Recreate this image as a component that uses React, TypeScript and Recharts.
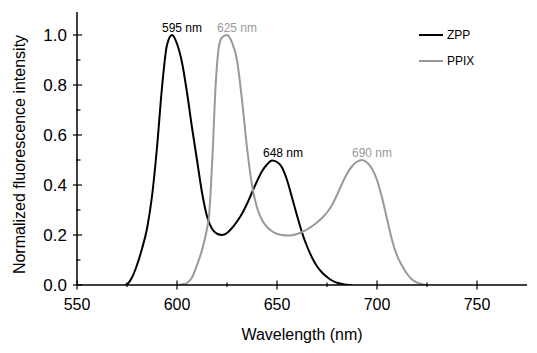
import React from 'react';
import { LineChart, Line, XAxis, YAxis, ReferenceDot } from 'recharts';

const zppWavelength = [574, 575, 577.5, 580, 582.5, 585, 587.5, 590, 592.5, 595, 597.5, 600, 602.5, 605, 607.5, 610, 612.5, 615, 617.5, 620, 622.5, 625, 627.5, 630, 632.5, 635, 637.5, 640, 642.5, 645, 647.5, 650, 652.5, 655, 657.5, 660, 662.5, 665, 667.5, 670, 672.5, 675, 677.5, 680, 682.5, 685, 687.5];
const zppIntensity = [0, 0.003, 0.03, 0.08, 0.145, 0.225, 0.355, 0.55, 0.79, 0.96, 1.0, 0.965, 0.89, 0.77, 0.63, 0.5, 0.37, 0.275, 0.225, 0.205, 0.2, 0.208, 0.228, 0.254, 0.285, 0.325, 0.37, 0.415, 0.455, 0.482, 0.498, 0.492, 0.47, 0.42, 0.35, 0.278, 0.21, 0.155, 0.11, 0.075, 0.05, 0.032, 0.018, 0.009, 0.004, 0.001, 0];

const ppixWavelength = [600, 602.5, 605, 607.5, 610, 612.5, 615, 616, 617, 618, 619, 620, 621, 622.5, 625, 627.5, 630, 632.5, 635, 637.5, 640, 642.5, 645, 647.5, 650, 652.5, 655, 657.5, 660, 662.5, 665, 667.5, 670, 672.5, 675, 677.5, 680, 682.5, 685, 687.5, 690, 692.5, 695, 697.5, 700, 702.5, 705, 707.5, 710, 712.5, 715, 717.5, 720, 722.5, 725];
const ppixIntensity = [0, 0.002, 0.008, 0.03, 0.08, 0.14, 0.225, 0.275, 0.4, 0.56, 0.75, 0.88, 0.955, 0.99, 1.0, 0.97, 0.9, 0.74, 0.55, 0.4, 0.31, 0.26, 0.232, 0.215, 0.205, 0.2, 0.198, 0.199, 0.204, 0.212, 0.222, 0.235, 0.25, 0.268, 0.29, 0.32, 0.36, 0.405, 0.445, 0.475, 0.493, 0.5, 0.49, 0.465, 0.42, 0.35, 0.265, 0.18, 0.118, 0.078, 0.045, 0.022, 0.01, 0.003, 0];

const xMajorTicks = [550, 600, 650, 700, 750];
const xMinorTicks = [575, 625, 675, 725];
const yMajorTicks = [0, 0.2, 0.4, 0.6, 0.8, 1.0];
const yMinorTicks = [0.1, 0.3, 0.5, 0.7, 0.9];

const peakWavelengths = [597.5, 625, 648, 692.5];
const peakIntensities = [1.0, 1.0, 0.5, 0.5];
const peakLabels = ['595 nm', '625 nm', '648 nm', '690 nm'];
const peakSeries = ['ZPP', 'PPIX', 'ZPP', 'PPIX'];

const seriesNames = ['ZPP', 'PPIX'];
const seriesColors: Record<string, string> = { ZPP: '#000000', PPIX: '#999999' };

const zppData = zppWavelength.map((x, i) => ({ x, y: zppIntensity[i] }));
const ppixData = ppixWavelength.map((x, i) => ({ x, y: ppixIntensity[i] }));

const FONT = '"Liberation Sans", Arial, Helvetica, sans-serif';

const isMajor = (v: number, list: number[]) => list.some((m) => Math.abs(m - v) < 1e-6);

const XTick = (props: any) => {
  const { x, y, payload } = props;
  const v = payload.value;
  const major = isMajor(v, xMajorTicks);
  return (
    <g>
      <line x1={x} x2={x} y1={y - (major ? 4.5 : 2.5)} y2={y + (major ? 4.5 : 2)} stroke="#000" strokeWidth={1.2} />
      {major && (
        <text x={x} y={y + 25} textAnchor="middle" fontSize={16} fill="#000" fontFamily={FONT}>
          {v}
        </text>
      )}
    </g>
  );
};

const YTick = (props: any) => {
  const { x, y, payload } = props;
  const v = payload.value;
  const major = isMajor(v, yMajorTicks);
  return (
    <g>
      <line x1={x - (major ? 4 : 1)} x2={x + (major ? 5 : 3.5)} y1={y} y2={y} stroke="#000" strokeWidth={1.2} />
      {major && (
        <text x={x - 10} y={y + 6} textAnchor="end" fontSize={17} fill="#000" fontFamily={FONT}>
          {v.toFixed(1)}
        </text>
      )}
    </g>
  );
};

const LegendBox = () => (
  <div style={{ position: 'absolute', left: 419, top: 22, fontFamily: FONT, fontSize: 12 }}>
    {seriesNames.map((n) => (
      <div key={n} style={{ display: 'flex', alignItems: 'center', height: 26 }}>
        <svg width={28} height={4} style={{ display: 'block' }}>
          <line x1={0} x2={24} y1={2} y2={2} stroke={seriesColors[n]} strokeWidth={2} />
        </svg>
        <span style={{ color: '#000' }}>{n}</span>
      </div>
    ))}
  </div>
);

export default function App() {
  return (
    <div style={{ position: 'absolute', left: 0, top: 0, width: 537, height: 353, background: '#fff' }}>
      <LineChart width={537} height={353} margin={{ top: 12, right: 10, bottom: 0, left: 0 }}>
        <XAxis
          type="number"
          dataKey="x"
          domain={[550, 775]}
          ticks={[...xMajorTicks, ...xMinorTicks].sort((a, b) => a - b)}
          allowDataOverflow
          height={68}
          tickSize={0}
          tickMargin={0}
          tickLine={false}
          axisLine={{ stroke: '#000', strokeWidth: 1.5 }}
          tick={<XTick />}
          interval={0}
          label={{
            content: (p: any) => {
              const vb = p.viewBox;
              return (
                <text x={vb.x + vb.width / 2} y={vb.y + 55} textAnchor="middle" fontSize={16} fill="#000" fontFamily={FONT}>
                  Wavelength (nm)
                </text>
              );
            },
          }}
        />
        <YAxis
          type="number"
          domain={[0, 1.092]}
          ticks={[...yMajorTicks, ...yMinorTicks].sort((a, b) => a - b)}
          allowDataOverflow
          width={77}
          tickSize={0}
          tickMargin={0}
          tickLine={false}
          axisLine={{ stroke: '#000', strokeWidth: 1.5 }}
          tick={<YTick />}
          interval={0}
          label={{
            content: (p: any) => {
              const vb = p.viewBox;
              const cy = vb.y + vb.height / 2 + 6;
              return (
                <text x={25} y={cy} transform={`rotate(-90, 25, ${cy})`} textAnchor="middle" fontSize={16} fill="#000" fontFamily={FONT}>
                  Normalized fluorescence intensity
                </text>
              );
            },
          }}
        />
        <Line data={zppData} dataKey="y" name="ZPP" type="monotone" stroke={seriesColors.ZPP} strokeWidth={2} dot={false} isAnimationActive={false} />
        <Line data={ppixData} dataKey="y" name="PPIX" type="monotone" stroke={seriesColors.PPIX} strokeWidth={2} dot={false} isAnimationActive={false} />
        {peakWavelengths.map((px, i) => (
          <ReferenceDot
            key={i}
            x={px}
            y={peakIntensities[i]}
            r={1}
            fill="none"
            stroke="none"
            label={{
              content: (p: any) => {
                const vb = p.viewBox;
                const cx = vb.x + (vb.width || 0) / 2;
                const cy = vb.y + (vb.height || 0) / 2;
                return (
                  <text x={cx + 10} y={cy - 3} textAnchor="middle" fontSize={12} fill={seriesColors[peakSeries[i]]} fontFamily={FONT}>
                    {peakLabels[i]}
                  </text>
                );
              },
            }}
          />
        ))}
      </LineChart>
      <LegendBox />
    </div>
  );
}
